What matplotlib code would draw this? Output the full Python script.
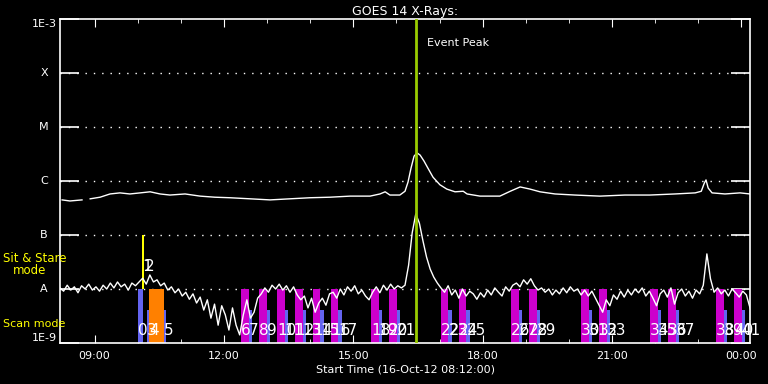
import numpy as np
import matplotlib
matplotlib.use("Agg")
import matplotlib.pyplot as plt
from matplotlib.transforms import blended_transform_factory


def hm(s):
    h, m = s.split(":")
    return int(h) + int(m) / 60.0


# time axis: hours since midnight of 16-Oct-12 (24 = 00:00 next day)
t_start = 8.2
t_end = 24.2

# GOES long channel (log10 W/m^2), irregular samples
hi_t = [8.25, 8.43, 8.71, 8.80, 8.90, 9.13, 9.36, 9.59, 9.82, 10.06, 10.29, 10.52,
        10.75, 11.10, 11.45, 11.79, 12.14, 12.61, 13.07, 13.53, 14.00, 14.46, 14.93,
        15.39, 15.62, 15.74, 15.85, 16.08, 16.20, 16.27, 16.34, 16.41, 16.48, 16.55,
        16.64, 16.73, 16.85, 17.01, 17.17, 17.36, 17.55, 17.64, 17.94, 18.40, 18.64,
        18.87, 19.10, 19.33, 19.68, 20.14, 20.72, 21.30, 21.88, 22.46, 22.93, 23.07,
        23.14, 23.18, 23.23, 23.32, 23.62, 23.97, 24.20]
hi_v = [-6.35, -6.37, -6.35, np.nan, -6.33, -6.30, -6.24, -6.22, -6.24, -6.22, -6.20, -6.24,
        -6.26, -6.24, -6.28, -6.30, -6.31, -6.33, -6.35, -6.33, -6.31, -6.30, -6.28,
        -6.28, -6.24, -6.20, -6.26, -6.26, -6.19, -6.02, -5.76, -5.54, -5.48, -5.52,
        -5.63, -5.76, -5.93, -6.07, -6.15, -6.20, -6.19, -6.24, -6.28, -6.28, -6.19,
        -6.11, -6.15, -6.20, -6.24, -6.26, -6.28, -6.26, -6.26, -6.24, -6.22, -6.19,
        -6.04, -5.98, -6.13, -6.22, -6.24, -6.22, -6.24]

# GOES short channel (log10 W/m^2), 5-minute samples from 08:12
lo_v = [-7.98, -8.04, -7.93, -8.02, -7.96, -8.07, -7.94, -8.00, -7.91, -8.02, -7.96, -8.04,
        -7.93, -8.00, -7.89, -7.98, -7.87, -7.96, -7.91, -8.02, -7.89, -7.94, -7.87,
        -7.80, -7.91, -7.74, -7.87, -7.83,
        -7.94, -7.89, -8.02, -7.96, -8.07, -8.00, -8.13, -8.06,
        -8.19, -8.09, -8.26, -8.15, -8.39, -8.20, -8.54, -8.28, -8.67, -8.31,
        -8.48, -8.76, -8.35, -8.67, -8.85, -8.48, -8.20, -8.54,
        -8.43, -8.17, -8.09, -7.98, -8.06, -7.93, -8.00,
        -7.91, -8.02, -7.94, -8.06, -7.96, -8.11, -8.20,
        -8.13, -8.35, -8.17, -8.43, -8.26, -8.17, -8.30, -8.09,
        -8.06, -8.17, -8.00, -8.11, -7.96, -8.04, -7.94, -8.09, -8.02,
        -8.13, -8.20, -8.06, -7.96, -8.07, -7.93, -8.02, -7.91, -8.00, -7.94, -7.98,
        -7.93, -7.56, -6.96, -6.61, -6.78, -7.11, -7.41, -7.63, -7.78, -7.89, -7.98,
        -8.06, -7.94, -8.11, -8.02, -8.17, -8.00, -8.13, -8.04, -8.09, -8.19,
        -8.07, -8.15, -8.02, -8.11, -7.98, -8.06, -8.13, -7.96, -8.04, -7.93,
        -7.89, -7.96, -7.83, -7.91, -7.81, -7.94, -8.02, -7.98,
        -8.06, -8.00, -8.11, -8.02, -8.09, -7.98, -8.07, -7.96, -8.04, -8.00, -8.11, -8.02,
        -8.13, -8.04, -8.17, -8.30, -8.43, -8.20,
        -8.31, -8.11, -8.19, -8.04, -8.15, -8.02, -8.11, -8.00, -8.07, -7.98, -8.13, -8.04, -8.17,
        -8.31, -8.09, -8.02, -8.15, -7.98, -8.28, -8.07, -8.00, -8.13, -8.04, -8.17, -8.02, -8.09,
        -7.93, -7.35, -7.81, -8.06, -7.98,
        -8.09, -8.02, -8.13, -8.00, -8.07, -8.15, -8.04, -8.11, -8.35]

peak_time = "16:27"

# sit & stare observations
ss_blue_tall = [("10:00", "10:07")]
ss_yellow = [("10:06", "10:09")]
ss_blue_short = [("10:13", "10:16"), ("10:37", "10:40")]
ss_orange = [("10:16", "10:37")]
ss_labels = ["0", "1", "2", "3", "4", "5"]
ss_label_times = ["10:00", "10:06", "10:10", "10:13", "10:16", "10:37"]
ss_label_high = [False, True, True, False, False, False]

# scan mode observations: magenta block followed by short blue block
scan_starts = ["12:24", "12:49", "13:14", "13:39", "14:04", "14:29", "15:25", "15:50",
               "17:02", "17:27", "18:40", "19:05", "20:17", "20:42", "21:53", "22:18",
               "23:25", "23:50"]
scan_len_min = 10.4
blue_len_min = 5.0

level_names = ["1E-9", "A", "B", "C", "M", "X", "1E-3"]
level_vals = [1e-9, 1e-8, 1e-7, 1e-6, 1e-5, 1e-4, 1e-3]

xtick_labels = ["09:00", "12:00", "15:00", "18:00", "21:00", "00:00"]
xtick_vals = [9, 12, 15, 18, 21, 24]

MAG = "#cc00cc"
BLUE = "#6464f0"
ORANGE = "#ff8000"
YEL = "#ffff00"
PEAK = "#99cc00"

fig = plt.figure(figsize=(7.68, 3.84), dpi=100, facecolor="black")
ax = fig.add_axes([60 / 768, 41 / 384, 690 / 768, 324 / 384], facecolor="black")
ax.set_yscale("log")
ax.set_xlim(t_start, t_end)
ax.set_ylim(1e-9, 1e-3)


def span(ax, t0, t1, lo, hi, color):
    ax.bar(hm(t0), hi - lo, width=hm(t1) - hm(t0), bottom=lo, align="edge",
           color=color, linewidth=0, zorder=2)


# bars
for a, b in ss_blue_tall:
    span(ax, a, b, 1e-9, 1e-8, BLUE)
for a, b in ss_yellow:
    span(ax, a, b, 1e-8, 1e-7, YEL)
for a, b in ss_orange:
    span(ax, a, b, 1e-9, 1e-8, ORANGE)
for a, b in ss_blue_short:
    span(ax, a, b, 1e-9, 4.1e-9, BLUE)

for s in scan_starts:
    t0 = hm(s)
    ax.bar(t0, 1e-8 - 1e-9, width=scan_len_min / 60, bottom=1e-9, align="edge",
           color=MAG, linewidth=0, zorder=2)
    ax.bar(t0 + scan_len_min / 60, 4.1e-9 - 1e-9, width=blue_len_min / 60, bottom=1e-9,
           align="edge", color=BLUE, linewidth=0, zorder=2)

# dotted level lines
for v in level_vals[1:-1]:
    ax.axhline(v, color="white", lw=1, ls=(0, (1, 5)), zorder=1)

# curves
lo_t = t_start + np.arange(len(lo_v)) / 12.0
ax.plot(hi_t, 10 ** np.array(hi_v), color="white", lw=1, zorder=3)
ax.plot(lo_t, 10 ** np.array(lo_v), color="white", lw=1, zorder=3)

# event peak
ax.axvline(hm(peak_time), color=PEAK, lw=2, zorder=4)
ax.text(hm(peak_time) + 0.25, 3.6e-4, "Event Peak", color="white", fontsize=8,
        va="center", ha="left", zorder=5)

# event numbers
for lab, tm, high in zip(ss_labels, ss_label_times, ss_label_high):
    ax.text(hm(tm), 2.6e-8 if high else 1.7e-9, lab, color="white", fontsize=11,
            ha="left", va="center", zorder=5)
n = 6
for s in scan_starts:
    t0 = hm(s)
    ax.text(t0, 1.7e-9, str(n), color="white", fontsize=11, ha="left", va="center", zorder=5)
    ax.text(t0 + scan_len_min / 60, 1.7e-9, str(n + 1), color="white", fontsize=11,
            ha="left", va="center", zorder=5)
    n += 2

# axes styling
for sp in ax.spines.values():
    sp.set_color("white")
    sp.set_linewidth(1.2)
ax.set_xticks(xtick_vals)
ax.set_xticklabels(xtick_labels)
ax.set_xticks(np.arange(9, 25, 1), minor=True)
ax.tick_params(axis="x", which="major", direction="in", length=6, colors="white",
               labelsize=8, top=True, pad=6)
ax.tick_params(axis="x", which="minor", direction="in", length=3, colors="white", top=True)
ax.set_yticks(level_vals)
ax.set_yticklabels([])
ax.yaxis.set_minor_locator(matplotlib.ticker.NullLocator())
ax.tick_params(axis="y", which="major", direction="in", length=14, colors="white",
               right=True, width=1.2)

tr = blended_transform_factory(ax.transAxes, ax.transData)
for name, v in zip(level_names, level_vals):
    va = "center"
    if name == "1E-3":
        va = "top"
    elif name == "1E-9":
        va = "bottom"
    ax.text(-0.023, v, name, transform=tr, color="white", fontsize=8, ha="center", va=va)

fig.text(3 / 768, 1 - 258 / 384, "Sit & Stare", color=YEL, fontsize=8.5,
         ha="left", va="center")
fig.text(13 / 768, 1 - 271 / 384, "mode", color=YEL, fontsize=8.5,
         ha="left", va="center")
fig.text(3 / 768, 1 - 324 / 384, "Scan mode", color=YEL, fontsize=8,
         ha="left", va="center")

ax.set_title("GOES 14 X-Rays:", color="white", fontsize=9, pad=3)
ax.set_xlabel("Start Time (16-Oct-12 08:12:00)", color="white", fontsize=8, labelpad=2)

fig.savefig("out.png", dpi=100, facecolor="black")
